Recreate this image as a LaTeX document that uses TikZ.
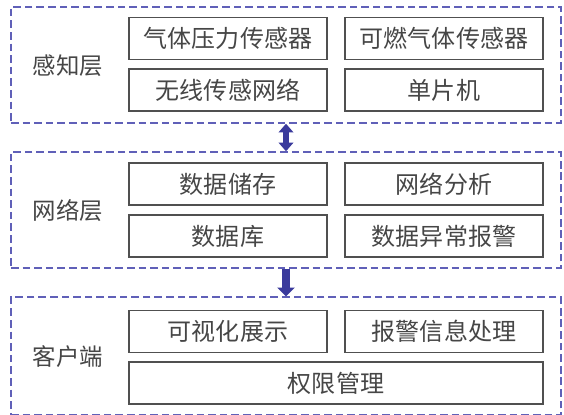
\documentclass[tikz,border=0pt]{standalone}
\usepackage{fontspec}
\usepackage{tikz}
\usetikzlibrary{arrows.meta, positioning}
\newfontfamily\cjk{Noto Sans CJK SC}
\definecolor{clyr}{RGB}{96,96,184}
\definecolor{carr}{RGB}{58,58,156}
\definecolor{cbox}{RGB}{80,80,80}
\definecolor{ctxt}{RGB}{70,70,70}

\begin{document}
\begin{tikzpicture}[
  x=0.03cm, y=-0.03cm,
  lyr/.style={draw=clyr, line width=1.2pt, dash pattern=on 6.5pt off 3.4pt,
              minimum width=16.5cm, minimum height=#1, inner sep=0pt},
  blk/.style={draw=cbox, line width=1.1pt, minimum width=#1,
              minimum height=1.26cm, inner sep=0pt,
              font=\cjk\fontsize{20.5}{23}\selectfont, text=ctxt},
  blk/.default=5.94cm,
  lbl/.style={font=\cjk\fontsize{20}{23}\selectfont, text=ctxt},
  arr/.style={line width=#1, carr}
]
\useasboundingbox (0,0) rectangle (564,414);

%% ── Layer frames
\foreach \i/\y/\h/\name in {
  1/65/3.48cm/感知层,
  2/210/3.48cm/网络层,
  3/356/3.54cm/客户端
}{
  \node[lyr=\h] (L\i) at (286, \y) {};
  \node[lbl] (N\i) at (68, \y+1) {\name};
}

%% ── Perception layer
\node[blk] (gas)  at (228, 38.5) {气体压力传感器};
\node[blk] (fire) at (444, 38.5) {可燃气体传感器};
\node[blk] (wsn)  at (228, 90)   {无线传感网络};
\node[blk] (mcu)  at (444, 90)   {单片机};

%% ── Network layer
\node[blk] (store) at (228, 184) {数据储存};
\node[blk] (anal)  at (444, 184) {网络分析};
\node[blk] (db)    at (228, 236) {数据库};
\node[blk] (alarm) at (444, 236) {数据异常报警};

%% ── Client layer
\node[blk] (vis)  at (228, 331.5) {可视化展示};
\node[blk] (warn) at (444, 331.5) {报警信息处理};
\node[blk=12.42cm] (auth) at (336, 383) {权限管理};

%% ── Arrows between layers
\draw[arr=5pt, {Triangle[length=7.5pt, width=12.5pt]}-{Triangle[length=7.5pt, width=12.5pt]}]
  (L1.south) -- (L2.north);
\draw[arr=6.5pt, -{Triangle[length=7.5pt, width=14.5pt]}]
  (L2.south) -- (L3.north);

\end{tikzpicture}
\end{document}
